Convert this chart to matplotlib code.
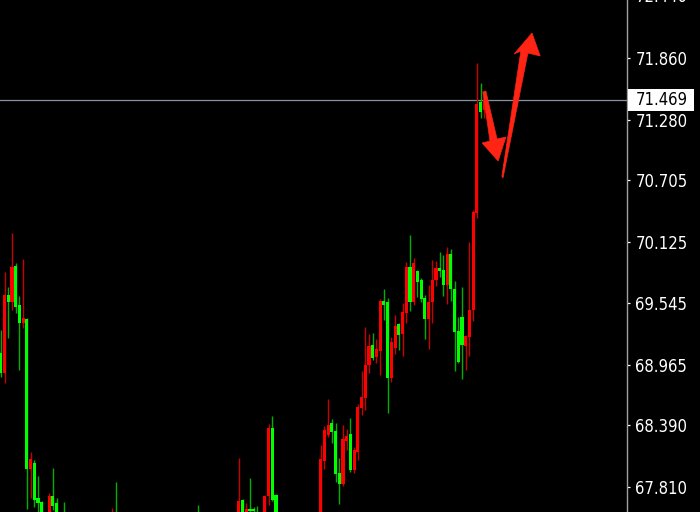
import matplotlib
matplotlib.use("Agg")
import matplotlib.pyplot as plt
import numpy as np
from matplotlib.patches import Polygon, Rectangle
from matplotlib.transforms import blended_transform_factory

# ---- data (bar number, OHLC) ----
bar_idx = [-1, 0, 1, 2, 3, 4, 5, 6, 7, 8, 9, 10, 12, 13, 14, 16, 29, 30, 52,
           63, 64, 65, 66, 67, 68, 70, 71, 72, 73] + list(range(85, 130))

open_ = [69.074, 68.885, 69.622, 69.556, 69.896, 69.528, 69.358, 69.395, 67.977, 68.034, 67.703, 67.665,
         67.448, 67.722, 67.656, 67.542, 67.401, 67.542, 67.560,
         67.448, 67.684, 67.533, 67.599, 67.599, 67.542, 67.495, 67.722, 68.365, 67.732,
         67.401, 68.053, 68.299, 68.412, 68.337, 67.939, 67.835, 68.242, 68.308, 67.968,
         68.138, 68.554, 68.649, 68.960, 69.150, 69.036, 69.093, 69.566, 69.556, 68.838,
         69.121, 69.348, 69.254, 69.452, 69.887, 69.556, 69.849, 69.764, 69.594, 69.395,
         69.556, 69.764, 69.878, 69.859, 69.717, 70.010, 69.679, 69.282, 69.414, 69.140,
         69.225, 69.480, 70.398, 71.447, 71.371]

high = [69.291, 69.840, 69.698, 70.208, 69.925, 69.613, 69.963, 69.405, 68.138, 68.062, 67.911, 67.670,
        67.750, 67.987, 67.703, 67.665, 67.609, 67.854, 67.637,
        68.081, 67.690, 67.656, 67.892, 67.618, 67.627, 67.732, 68.403, 68.478, 67.740,
        68.204, 68.384, 68.639, 68.450, 68.412, 68.081, 68.393, 68.355, 68.459, 68.185,
        68.592, 68.904, 69.320, 69.254, 69.263, 69.206, 69.584, 69.679, 69.594, 69.225,
        69.433, 69.358, 69.547, 69.934, 70.190, 69.972, 69.859, 69.783, 69.622, 69.717,
        69.953, 69.944, 70.029, 70.000, 70.076, 70.057, 69.755, 69.414, 69.698, 69.244,
        70.123, 70.426, 71.816, 71.627, 71.541]

low = [68.847, 68.790, 69.216, 69.480, 69.452, 68.913, 69.310, 67.599, 67.703, 67.618, 67.542, 67.306,
       67.401, 67.590, 67.448, 67.306, 67.353, 67.259, 67.353,
       67.401, 67.495, 67.495, 67.561, 67.552, 67.419, 67.448, 67.637, 67.675, 67.448,
       67.353, 67.977, 68.280, 68.223, 67.854, 67.646, 67.817, 68.157, 67.949, 67.939,
       68.062, 68.488, 68.535, 68.885, 69.008, 68.979, 68.866, 69.386, 68.507, 68.800,
       69.064, 69.102, 69.046, 69.358, 69.471, 69.528, 69.603, 69.556, 69.206, 69.112,
       69.358, 69.707, 69.792, 69.613, 69.537, 69.566, 68.904, 68.980, 68.828, 68.913,
       69.046, 69.376, 70.350, 71.296, 71.296]

close = [68.885, 69.622, 69.556, 69.887, 69.509, 69.358, 69.405, 67.977, 68.072, 67.684, 67.656, 67.401,
         67.722, 67.627, 67.495, 67.353, 67.542, 67.306, 67.401,
         67.675, 67.533, 67.599, 67.580, 67.580, 67.448, 67.722, 68.365, 67.684, 67.495,
         68.072, 68.346, 68.393, 68.327, 67.930, 67.835, 68.261, 68.289, 67.968, 68.157,
         68.563, 68.658, 68.960, 69.140, 69.027, 69.112, 69.566, 69.528, 68.838, 69.178,
         69.329, 69.244, 69.462, 69.887, 69.556, 69.925, 69.745, 69.584, 69.395, 69.556,
         69.764, 69.878, 69.849, 69.717, 70.010, 69.679, 69.272, 68.989, 69.150, 69.235,
         69.480, 70.407, 71.428, 71.352, 71.469]

tick_values = [67.810, 68.390, 68.965, 69.545, 70.125, 70.705, 71.280, 71.860]
tick_labels = ["67.810", "68.390", "68.965", "69.545", "70.125", "70.705", "71.280", "71.860"]
top_cut_value, top_cut_label = 72.440, "72.440"
last_price, last_label = 71.469, "71.469"

# hand-drawn annotation arrows (bar number, price)
arrow_down = [(128.6, 71.541), (129.4, 71.551), (132.4, 71.097), (134.8, 71.116),
              (132.7, 70.889), (128.4, 71.059), (130.5, 71.078)]
arrow_up = [(134.0, 70.728), (140.7, 71.910), (144.0, 71.882), (141.8, 72.099),
            (137.0, 71.901), (138.8, 71.929), (133.7, 70.745)]

# ---- drawing ----
W, H = 700, 512
fig = plt.figure(figsize=(W / 100, H / 100), dpi=100, facecolor="black")
ax = fig.add_axes([0, 0, 627 / W, 1])
ax.set_facecolor("black")

o = np.array(open_); c = np.array(close); h = np.array(high); l = np.array(low)
x = np.array(bar_idx)
up = c >= o
body_col = np.where(up, "#ff0000", "#00ff00")
wick_col = np.where(up, "#c80000", "#00b000")

ax.vlines(x, l, h, colors=wick_col, linewidth=1.0, zorder=2)
bh = np.maximum(np.abs(c - o), 0.006)
ax.bar(x, bh, bottom=np.minimum(o, c), width=0.84, color=body_col, linewidth=0, zorder=3)

ax.axhline(last_price, color="#8591a0", linewidth=0.9, zorder=1)

for pts in (arrow_down, arrow_up):
    ax.add_patch(Polygon(pts, closed=True, facecolor="#ff2414", edgecolor="#ff2414",
                         linewidth=0.5, zorder=5))

ax.set_xlim(-1.21, 167.34)
ax.set_ylim(67.5707, 72.4112)

for s in ("left", "top", "bottom"):
    ax.spines[s].set_visible(False)
ax.spines["right"].set_color("#a0a0a0")
ax.spines["right"].set_linewidth(1.0)
ax.set_xticks([])
ax.yaxis.tick_right()
ax.set_yticks(tick_values)
font = dict(family="DejaVu Sans", stretch="condensed", size=12)
ax.set_yticklabels(tick_labels, **font)
ax.tick_params(axis="y", colors="white", length=2.5, width=0.9, pad=3.5)

tr = blended_transform_factory(fig.transFigure, ax.transData)
ax.text(636 / W, top_cut_value, top_cut_label, transform=tr, color="white",
        va="center", ha="left", clip_on=False, **font)
ax.add_patch(Rectangle((628 / W, last_price - 0.104), 66 / W, 0.208, transform=tr,
                       facecolor="white", edgecolor="none", clip_on=False, zorder=6))
ax.text(636 / W, last_price, last_label, transform=tr, color="black",
        va="center", ha="left", clip_on=False, zorder=7, **font)

fig.savefig("out.png", dpi=100, facecolor="black")
